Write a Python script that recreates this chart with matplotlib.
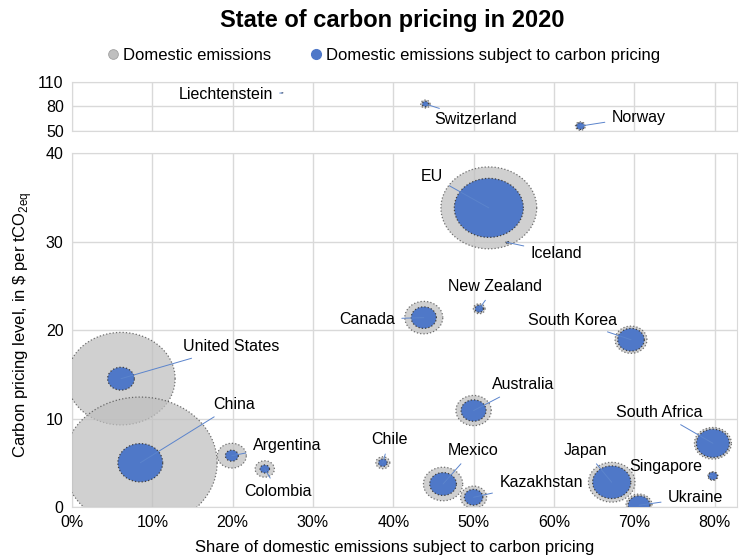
import numpy as np
import matplotlib
matplotlib.use("Agg")
import matplotlib.pyplot as plt
from matplotlib.path import Path
from matplotlib.lines import Line2D

plt.rcParams['font.family'] = ['Liberation Sans', 'DejaVu Sans']
plt.rcParams['mathtext.fontset'] = 'custom'
plt.rcParams['mathtext.rm'] = 'Liberation Sans'

# main panel: share covered, price ($/tCO2e), total emissions (Gt)
countries = ["United States", "China", "Argentina", "Colombia", "Chile", "Canada",
             "New Zealand", "EU", "Iceland", "Mexico", "Kazakhstan", "Australia",
             "Japan", "South Korea", "Ukraine", "South Africa", "Singapore"]
share = [0.061, 0.085, 0.199, 0.240, 0.387, 0.438, 0.507, 0.519, 0.542, 0.462,
         0.500, 0.500, 0.672, 0.696, 0.706, 0.798, 0.798]
price = [14.5, 5.0, 5.8, 4.3, 5.0, 21.4, 22.4, 33.8, 29.9, 2.6, 1.1, 10.9,
         2.8, 18.9, 0.2, 7.2, 3.5]
emissions = [6.0, 12.1, 0.43, 0.19, 0.10, 0.74, 0.07, 4.7, 0.004, 0.79, 0.35, 0.64,
             1.11, 0.52, 0.35, 0.70, 0.052]

# top panel: high prices
top_countries = ["Liechtenstein", "Switzerland", "Norway"]
top_share = [0.262, 0.440, 0.633]
top_price = [96.5, 83.0, 56.0]
top_emissions = [0.0002, 0.045, 0.05]

# label positions (data coords) and alignment
label_pos = {
    "United States": (0.138, 18.1, "left"), "China": (0.176, 11.6, "left"),
    "Argentina": (0.225, 7.0, "left"), "Colombia": (0.257, 1.7, "center"),
    "Chile": (0.395, 7.6, "center"), "Canada": (0.402, 21.2, "right"),
    "New Zealand": (0.527, 24.9, "center"), "EU": (0.462, 37.4, "right"),
    "Iceland": (0.571, 28.7, "left"), "Mexico": (0.499, 6.4, "center"),
    "Kazakhstan": (0.532, 2.8, "left"), "Australia": (0.523, 13.8, "left"),
    "Japan": (0.639, 6.4, "center"), "South Korea": (0.679, 21.1, "right"),
    "Ukraine": (0.742, 1.1, "left"), "South Africa": (0.785, 10.7, "right"),
    "Singapore": (0.785, 4.6, "right"),
    "Liechtenstein": (0.250, 94.1, "right"), "Switzerland": (0.503, 63.5, "center"),
    "Norway": (0.672, 67.1, "left"),
}

GREY = "#BFBFBF"
BLUE = "#4F78C8"
LINE = "#5B84CC"
EDGE = "#404040"
GRID = "#D9D9D9"

# bubbles look slightly stretched horizontally in the original
t = np.linspace(0, 2 * np.pi, 100)
ellipse = Path(np.column_stack([np.cos(t), np.sin(t) / 1.17]), closed=True)
K = 1012.8  # marker area per Gt


def bubbles(ax, x, y, total):
    x = np.array(x)
    y = np.array(y)
    total = np.array(total)
    covered = x * total
    ax.scatter(x, y, s=K * total, marker=ellipse, c=GREY, alpha=0.72,
               edgecolors=EDGE, linewidths=0.9, linestyles=':', zorder=3)
    ax.scatter(x, y, s=K * covered, marker=ellipse, c=BLUE,
               edgecolors=EDGE, linewidths=0.9, linestyles=':', zorder=4)


def labels(ax, names, x, y):
    for name, xi, yi in zip(names, x, y):
        lx, ly, ha = label_pos[name]
        ax.annotate(name, xy=(xi, yi), xytext=(lx, ly), ha=ha, va="center",
                    fontsize=11.5, color="#000000", zorder=6,
                    arrowprops=dict(arrowstyle="-", color=LINE, lw=0.7,
                                    shrinkA=3, shrinkB=0))


def style(ax):
    ax.set_xlim(0, 0.828)
    ax.set_xticks(np.arange(0, 0.81, 0.1))
    ax.grid(True, color=GRID, lw=1)
    ax.set_axisbelow(True)
    for sp in ax.spines.values():
        sp.set_color(GRID)
    ax.tick_params(length=0, labelsize=11.5, pad=6, colors="#000000")


fig = plt.figure(figsize=(7.44, 5.59), dpi=100)
ax = fig.add_axes([0.0968, 0.0930, 0.8938, 0.6333])
ax_top = fig.add_axes([0.0968, 0.7657, 0.8938, 0.0877])

style(ax)
ax.set_ylim(0, 40)
ax.set_yticks([0, 10, 20, 30, 40])
ax.set_xticklabels([f"{int(v * 100)}%" for v in np.arange(0, 0.81, 0.1)])
bubbles(ax, share, price, emissions)
labels(ax, countries, share, price)

style(ax_top)
ax_top.set_ylim(50, 110)
ax_top.set_yticks([50, 80, 110])
ax_top.set_xticklabels([])
bubbles(ax_top, top_share, top_price, top_emissions)
labels(ax_top, top_countries, top_share, top_price)

fig.text(0.527, 0.964, "State of carbon pricing in 2020", ha="center", va="center",
         fontsize=17, fontweight="bold")
handles = [
    Line2D([], [], marker="o", ls="", markersize=7, markerfacecolor=GREY,
           markeredgecolor="#A0A0A0", markeredgewidth=0.6),
    Line2D([], [], marker="o", ls="", markersize=7, markerfacecolor=BLUE,
           markeredgecolor=BLUE),
]
fig.legend(handles, ["Domestic emissions", "Domestic emissions subject to carbon pricing"],
           loc="center", bbox_to_anchor=(0.514, 0.9016), ncol=2, frameon=False,
           fontsize=12, handletextpad=0.1, columnspacing=2.2, handlelength=1.0)

fig.text(0.030, 1 - 325 / 559, "Carbon pricing level, in \\$ per tCO$_{\\mathrm{2eq}}$",
         rotation=90, ha="center", va="center", fontsize=12)
fig.text(0.531, 0.0197, "Share of domestic emissions subject to carbon pricing",
         ha="center", va="center", fontsize=12)

fig.savefig("out.png", dpi=100)
